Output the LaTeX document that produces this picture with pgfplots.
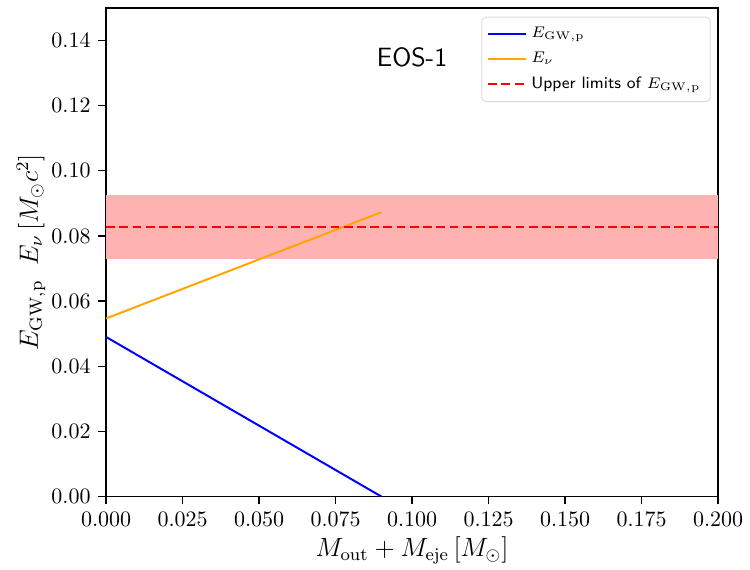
\documentclass[border=0pt]{standalone}
\usepackage{pgfplots}
\pgfplotsset{compat=1.18}
\definecolor{mplorange}{RGB}{255,165,0}
\definecolor{bandpink}{RGB}{255,178,178}
\begin{document}
\begin{tikzpicture}
\useasboundingbox (-48.2pt,-33.2pt) rectangle (292.5pt,225.6pt);
\begin{axis}[
  at={(0,0)}, anchor=south west,
  scale only axis,
  width=278pt, height=222pt,
  xmin=0, xmax=0.2, ymin=0, ymax=0.15,
  xtick={0,0.025,...,0.2001},
  ytick={0,0.02,...,0.1401},
  xtick pos=bottom, ytick pos=left,
  xticklabel style={/pgf/number format/.cd,fixed,fixed zerofill,precision=3},
  yticklabel style={/pgf/number format/.cd,fixed,fixed zerofill,precision=2},
  scaled x ticks=false, scaled y ticks=false,
  tick align=outside,
  major tick length=3.5pt,
  tick style={black, line width=0.6pt},
  axis line style={black, line width=0.6pt},
  xlabel={$M_{\rm out}+M_{\rm eje}\,[M_\odot]$},
  ylabel={$E_{\rm GW,p}\;\; E_{\nu}\,[M_\odot c^2]$},
  label style={font=\large},
  xlabel style={yshift=2pt},
  ylabel style={yshift=-4pt},
  legend style={at={(0.988,0.982)}, anchor=north east, font=\sffamily\fontsize{7.5}{11}\selectfont,
    draw=black!15, rounded corners=2pt, inner sep=2.5pt, row sep=1pt, cells={anchor=west}},
  legend cell align=left,
]
\addplot[draw=none, fill=bandpink, forget plot] coordinates {(0,0.0728) (0.2,0.0728) (0.2,0.0926) (0,0.0926)} -- cycle;
\addplot[blue, line width=0.9pt] coordinates {(0,0.049) (0.09,0.0)};
\addlegendentry{$E_{\rm GW,p}$}
\addplot[mplorange, line width=0.9pt] coordinates {(0,0.0547) (0.09,0.0873)};
\addlegendentry{$E_{\nu}$}
\addplot[red, line width=0.9pt, dashed, dash pattern=on 4pt off 2pt] coordinates {(0,0.0827) (0.2,0.0827)};
\addlegendentry{Upper limits of $E_{\rm GW,p}$}
\node[font=\sffamily\large] at (axis cs:0.1,0.1348) {EOS-1};
\end{axis}
\end{tikzpicture}
\end{document}
